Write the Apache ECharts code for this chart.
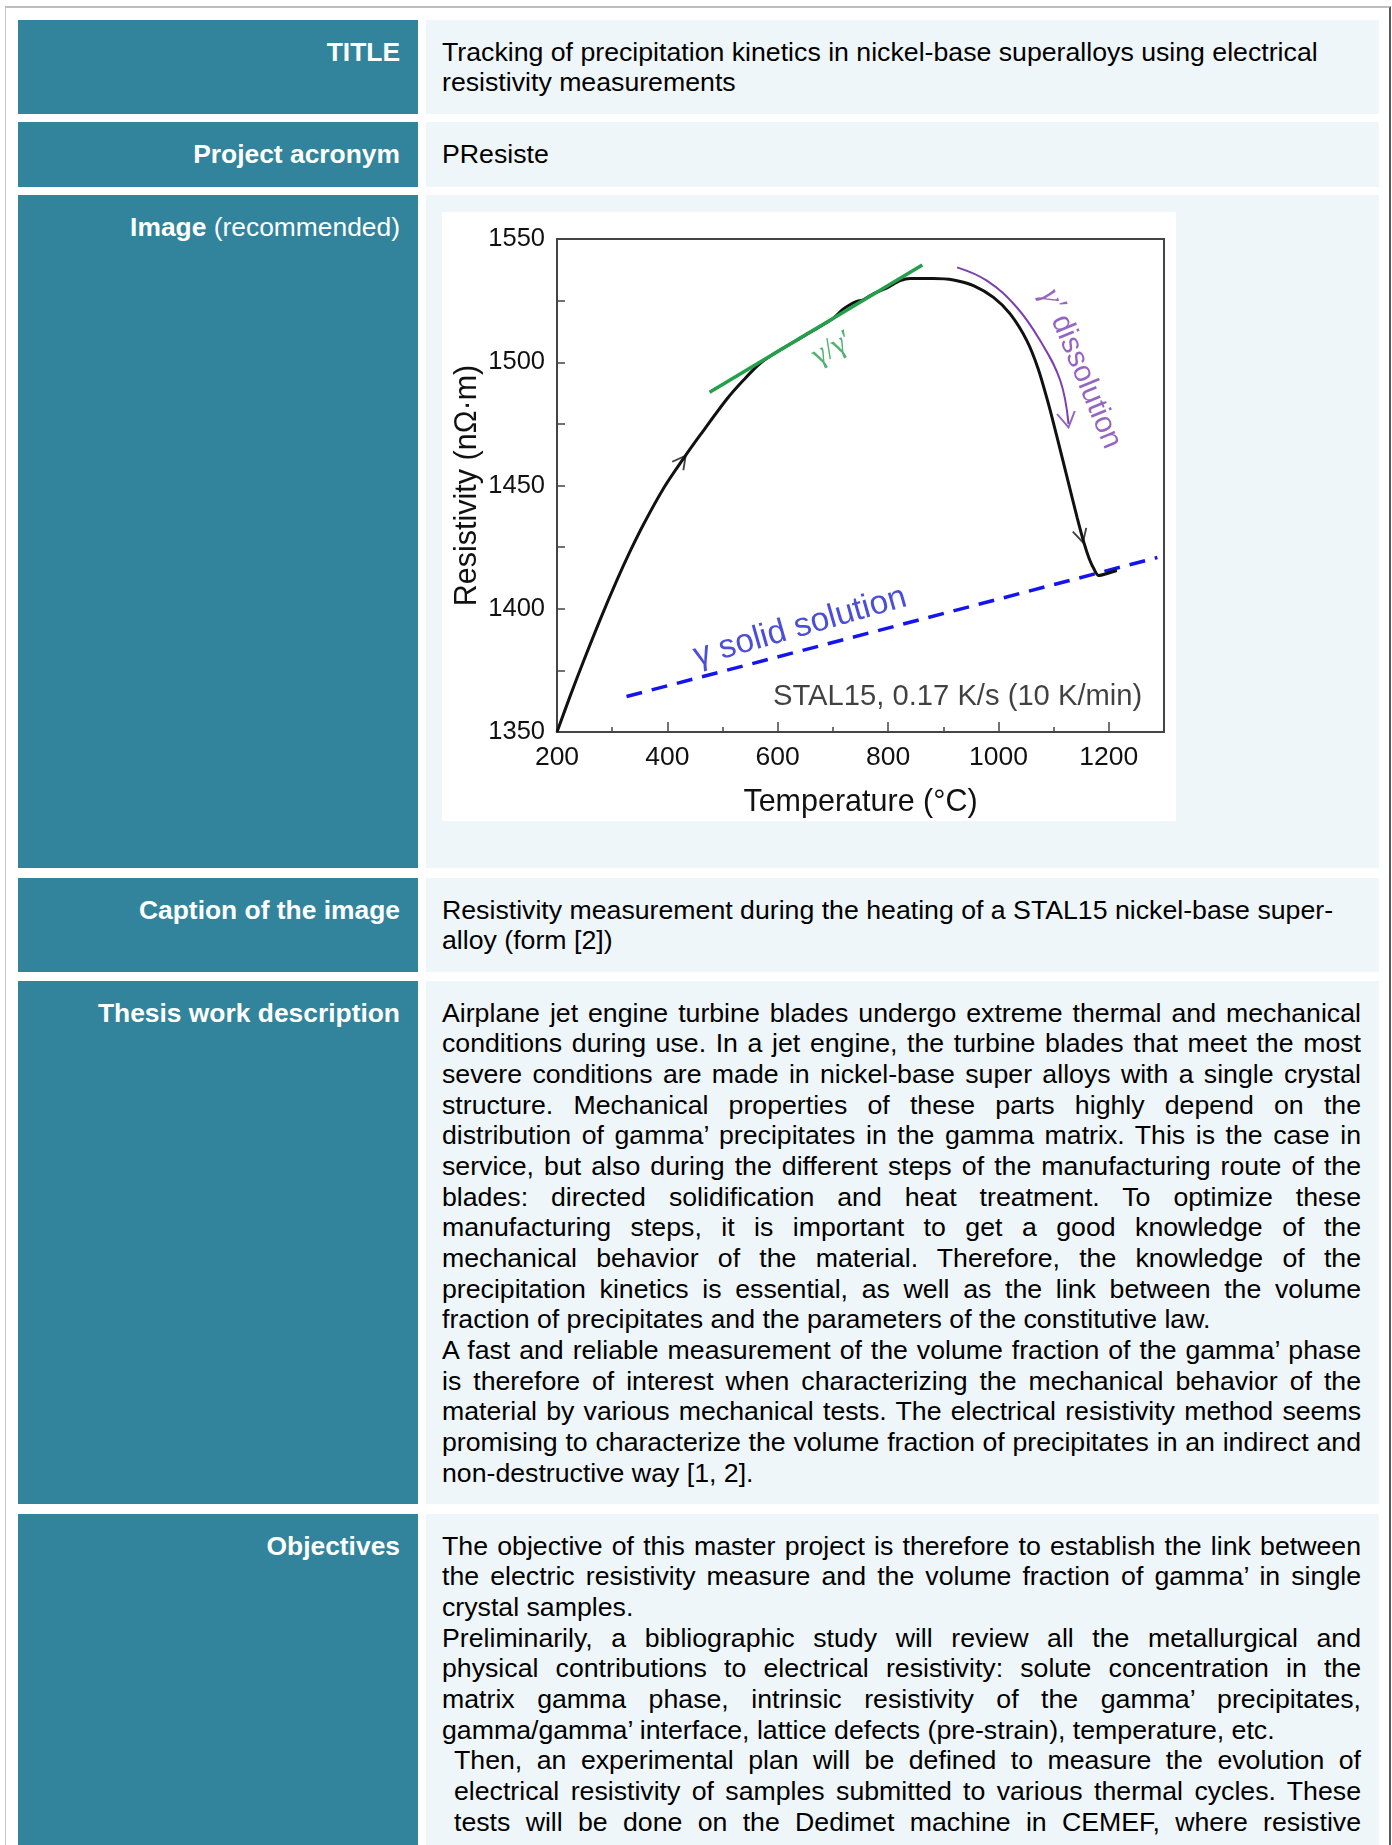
<!DOCTYPE html>
<html><head><meta charset="utf-8">
<script src="https://cdn.jsdelivr.net/npm/echarts@6/dist/echarts.min.js"></script>
<style>
html,body{margin:0;padding:0;background:#fff;width:1392px;height:1845px;overflow:hidden;}
body{font-family:'Liberation Sans',Arial,sans-serif;position:relative;}
#frame{position:absolute;left:5px;top:6px;width:1386px;height:1900px;border-top:2px solid #bdbdbd;border-left:1px solid #c6c6c6;border-right:2px solid #5a5a5a;box-sizing:border-box;}
.h{position:absolute;left:18px;width:400px;background:#31849b;color:#fff;font-weight:bold;text-align:right;box-sizing:border-box;padding:16.5px 18px 0 0;font-size:26.4px;line-height:30.67px;}
.h span{font-weight:normal;}
.c{position:absolute;left:426px;width:953px;background:#eef6f9;color:#000;box-sizing:border-box;padding:16.5px 18px 0 16px;font-size:26.7px;line-height:30.67px;}
.c p{margin:0;}
.j{text-align:justify;}
.ind{padding-left:12px;text-align-last:justify;}
#chart{position:absolute;left:442px;top:212px;width:734px;height:609px;background:#fff;}
</style></head>
<body>
<div id="frame"></div>

<div class="h" style="top:20px;height:94px;">TITLE</div>
<div class="c" style="top:20px;height:94px;">Tracking of precipitation kinetics in nickel-base superalloys using electrical resistivity measurements</div>

<div class="h" style="top:122px;height:65px;">Project acronym</div>
<div class="c" style="top:122px;height:65px;">PResiste</div>

<div class="h" style="top:195px;height:673px;">Image <span>(recommended)</span></div>
<div class="c" style="top:195px;height:673px;"></div>
<div id="chart"></div>

<div class="h" style="top:878px;height:94px;">Caption of the image</div>
<div class="c" style="top:878px;height:94px;">Resistivity measurement during the heating of a STAL15 nickel-base super-alloy (form [2])</div>

<div class="h" style="top:981px;height:523px;">Thesis work description</div>
<div class="c j" style="top:981px;height:523px;">
<p>Airplane jet engine turbine blades undergo extreme thermal and mechanical conditions during use. In a jet engine, the turbine blades that meet the most severe conditions are made in nickel-base super alloys with a single crystal structure. Mechanical properties of these parts highly depend on the distribution of gamma’ precipitates in the gamma matrix. This is the case in service, but also during the different steps of the manufacturing route of the blades: directed solidification and heat treatment. To optimize these manufacturing steps, it is important to get a good knowledge of the mechanical behavior of the material. Therefore, the knowledge of the precipitation kinetics is essential, as well as the link between the volume fraction of precipitates and the parameters of the constitutive law.</p>
<p>A fast and reliable measurement of the volume fraction of the gamma’ phase is therefore of interest when characterizing the mechanical behavior of the material by various mechanical tests. The electrical resistivity method seems promising to characterize the volume fraction of precipitates in an indirect and non-destructive way [1, 2].</p>
</div>

<div class="h" style="top:1514px;height:400px;">Objectives</div>
<div class="c j" style="top:1514px;height:400px;">
<p>The objective of this master project is therefore to establish the link between the electric resistivity measure and the volume fraction of gamma’ in single crystal samples.</p>
<p>Preliminarily, a bibliographic study will review all the metallurgical and physical contributions to electrical resistivity: solute concentration in the matrix gamma phase, intrinsic resistivity of the gamma’ precipitates, gamma/gamma’ interface, lattice defects (pre-strain), temperature, etc.</p>
<p class="ind">Then, an experimental plan will be defined to measure the evolution of electrical resistivity of samples submitted to various thermal cycles. These tests will be done on the Dedimet machine in CEMEF, where resistive</p>
</div>

<script>
// ---- data ----
const curveT = [200, 224.1, 248.2, 278.4, 308.6, 332.8, 356.9, 393.2, 429.4, 459.6, 507.9, 538.1, 568.3, 600, 650, 700, 718, 730, 742, 755, 775, 798, 822, 840, 882, 918.5, 954.7, 991, 1021.2, 1051.4, 1071.9, 1090, 1108.2, 1126.3, 1142.6, 1155.3, 1164.3, 1173.4, 1181.5, 1197, 1214.5];
const curveR = [1350, 1364.75, 1378.8, 1395.7, 1411.6, 1423.45, 1434.3, 1448.9, 1461.0, 1470.5, 1485.1, 1492.8, 1499.6, 1504.4, 1511.0, 1517.7, 1521.4, 1523.2, 1524.6, 1525.3, 1528.0, 1530.2, 1533.1, 1534.0, 1534.0, 1533.4, 1531.1, 1526.3, 1519.6, 1508.8, 1497.4, 1483.6, 1467.8, 1451.6, 1437.0, 1426.5, 1420.4, 1416.0, 1413.5, 1414.3, 1415.5];
const tangentT = [476.5, 862];
const tangentR = [1487.8, 1539.5];
const solidT = [326, 1288];
const solidR = [1364.4, 1420.8];
const dissolT = [925, 979, 1033, 1075.5, 1112, 1127];
const dissolR = [1538.5, 1533.1, 1522.3, 1508.8, 1492.6, 1475];
const arrowT = [426, 1150, 1124.6];
const arrowR = [1460, 1429.5, 1476.6];
const xTickLabels = [200, 400, 600, 800, 1000, 1200];
const yTickLabels = [1350, 1400, 1450, 1500, 1550];
const annotTexts = ['γ/γ′', '{g|γ′} dissolution', 'γ solid solution', 'STAL15, 0.17 K/s (10 K/min)'];
const annotT = [699, 1149, 640.6, 926];
const annotR = [1505.5, 1497.3, 1392.6, 1364.2];

// ---- styles ----
const pairs = (a, b) => a.map((v, i) => [v, b[i]]);
const arrowRot = [52.8, -74.8, -80];
const arrowSize = [[13, 14], [13, 14], [15, 18]];
const arrowCol = ['#111', '#111', '#7b3fb3'];
const annotStyle = [
  {rotate: 28, color: '#22a04a', fontSize: 30, fontFamily: 'Liberation Serif'},
  {rotate: -67.6, color: '#7b3fb3', fontSize: 30, rich: {g: {fontFamily: 'Liberation Serif', fontStyle: 'italic', fontSize: 32, color: '#7b3fb3'}}},
  {rotate: 16, color: '#1e22d0', fontSize: 33.5},
  {rotate: 0, color: '#111', fontSize: 29.2}
];

const chart = echarts.init(document.getElementById('chart'), null, {renderer: 'canvas'});
const frameCol = '#444';
chart.setOption({
  animation: false,
  backgroundColor: '#fff',
  textStyle: {fontFamily: 'Liberation Sans, Arial, sans-serif'},
  grid: {left: 115, right: 12, top: 27, bottom: 89, containLabel: false, outerBoundsMode: 'none',
         show: true, borderColor: frameCol, borderWidth: 2, backgroundColor: 'transparent'},
  xAxis: [{
    type: 'value', min: 200, max: 1300, interval: 100, position: 'bottom',
    name: 'Temperature (°C)', nameLocation: 'middle', nameGap: 55, nameMoveOverlap: false,
    nameTextStyle: {fontSize: 30.5, color: '#111'},
    axisLine: {show: true, lineStyle: {color: frameCol, width: 2}},
    axisTick: {show: true, inside: true, length: 5, lineStyle: {color: frameCol, width: 1.5}},
    axisLabel: {margin: 12, fontSize: 26.5, color: '#111', formatter: v => xTickLabels.includes(v) ? String(v) : ''},
    splitLine: {show: false}
  }, {
    type: 'value', min: 200, max: 1300, interval: 200, position: 'bottom',
    axisLine: {show: false},
    axisTick: {show: true, inside: true, length: 10, lineStyle: {color: frameCol, width: 1.5}},
    axisLabel: {show: false},
    splitLine: {show: false}
  }],
  yAxis: [{
    type: 'value', min: 1350, max: 1550, interval: 25, position: 'left',
    name: 'Resistivity (nΩ·m)', nameLocation: 'middle', nameGap: 74, nameRotate: 90, nameMoveOverlap: false,
    nameTextStyle: {fontSize: 30.5, color: '#111'},
    axisLine: {show: true, lineStyle: {color: frameCol, width: 2}},
    axisTick: {show: true, inside: true, length: 8, lineStyle: {color: frameCol, width: 1.5}},
    axisLabel: {margin: 12, fontSize: 25.5, color: '#111', formatter: v => yTickLabels.includes(v) ? String(v) : ''},
    splitLine: {show: false}
  }],
  series: [
    {type: 'line', data: pairs(solidT, solidR), showSymbol: false, symbol: 'none', z: 2,
     lineStyle: {color: '#1414ee', width: 3.5, type: [16, 10]}},
    {type: 'line', data: pairs(curveT, curveR), showSymbol: false, symbol: 'none', smooth: 0.3, z: 3,
     lineStyle: {color: '#111', width: 3}},
    {type: 'line', data: pairs(tangentT, tangentR), showSymbol: false, symbol: 'none', z: 4,
     lineStyle: {color: '#22a04a', width: 3.5}},
    {type: 'line', data: pairs(dissolT, dissolR), showSymbol: false, symbol: 'none', smooth: 0.4, z: 4,
     lineStyle: {color: '#7b3fb3', width: 2}},
    {type: 'scatter', z: 5, symbol: 'path://M0,0L10,5L0,10',
     data: pairs(arrowT, arrowR).map((p, i) => ({
       value: p, symbolRotate: arrowRot[i], symbolSize: arrowSize[i],
       itemStyle: {color: 'none', borderColor: arrowCol[i], borderWidth: 1.8}
     }))},
    {type: 'scatter', z: 6, symbolSize: 0, silent: true,
     data: pairs(annotT, annotR).map((p, i) => ({
       value: p,
       label: Object.assign({show: true, position: 'inside', formatter: annotTexts[i]}, annotStyle[i])
     }))}
  ]
});
</script>
</body></html>
